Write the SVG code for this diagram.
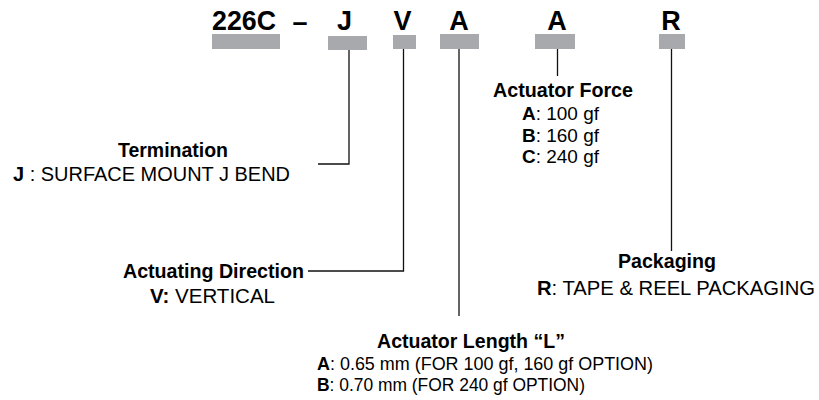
<svg xmlns="http://www.w3.org/2000/svg" width="819" height="400" viewBox="0 0 819 400">
<style>
text{font-family:"Liberation Sans",Arial,sans-serif;fill:#000;}
.code{font-size:27px;font-weight:bold;}
.t{font-size:19.5px;}
.r{font-size:20px;}
.f{font-size:19px;}
.s{font-size:18px;}
.b{font-weight:bold;}
.bar{fill:#A7A9AC;}
.ln{stroke:#111;stroke-width:1.3;fill:none;}
</style>
<rect width="819" height="400" fill="#fff"/>
<g id="code">
<text class="code" x="212" y="30" textLength="64" lengthAdjust="spacingAndGlyphs">226C</text>
<text class="code" x="300" y="31" text-anchor="middle">–</text>
<rect class="bar" x="212" y="34" width="68" height="15"/>
</g>
<g id="seg-J">
<text class="code" x="344.5" y="30" text-anchor="middle">J</text>
<rect class="bar" x="328" y="36" width="39" height="14"/>
</g>
<g id="seg-V">
<text class="code" x="402.5" y="30" text-anchor="middle">V</text>
<rect class="bar" x="393" y="35" width="23" height="14"/>
</g>
<g id="seg-A1">
<text class="code" x="459" y="30" text-anchor="middle">A</text>
<rect class="bar" x="440" y="34" width="39" height="15"/>
</g>
<g id="seg-A2">
<text class="code" x="557" y="30" text-anchor="middle">A</text>
<rect class="bar" x="535" y="34" width="40" height="15"/>
</g>
<g id="seg-R">
<text class="code" x="671" y="30" text-anchor="middle">R</text>
<rect class="bar" x="659" y="34" width="26" height="15"/>
</g>
<g id="connectors">
<polyline class="ln" points="349,50 349,164 318,164"/>
<polyline class="ln" points="403.5,49 403.5,271 308,271"/>
<line class="ln" x1="459" y1="49" x2="459" y2="316"/>
<line class="ln" x1="557.5" y1="49" x2="557.5" y2="76"/>
<line class="ln" x1="671.5" y1="49" x2="671.5" y2="251"/>
</g>
<g id="termination">
<text class="t b" x="118" y="157" textLength="110" lengthAdjust="spacingAndGlyphs">Termination</text>
<text class="r" x="13" y="181" textLength="277" lengthAdjust="spacingAndGlyphs"><tspan class="b">J</tspan> : SURFACE MOUNT J BEND</text>
</g>
<g id="direction">
<text class="t b" x="123" y="277.5" textLength="181" lengthAdjust="spacingAndGlyphs">Actuating Direction</text>
<text class="r" x="150" y="303" textLength="125" lengthAdjust="spacingAndGlyphs"><tspan class="b">V:</tspan> VERTICAL</text>
</g>
<g id="force">
<text class="t b" x="493" y="96.5" textLength="140" lengthAdjust="spacingAndGlyphs">Actuator Force</text>
<text class="f" x="522" y="120" textLength="77" lengthAdjust="spacingAndGlyphs"><tspan class="b">A</tspan>: 100 gf</text>
<text class="f" x="522" y="141.5" textLength="77" lengthAdjust="spacingAndGlyphs"><tspan class="b">B</tspan>: 160 gf</text>
<text class="f" x="522" y="163" textLength="77" lengthAdjust="spacingAndGlyphs"><tspan class="b">C</tspan>: 240 gf</text>
</g>
<g id="packaging">
<text class="t b" x="618" y="268" textLength="98" lengthAdjust="spacingAndGlyphs">Packaging</text>
<text class="r" x="537" y="295" textLength="278" lengthAdjust="spacingAndGlyphs"><tspan class="b">R</tspan>: TAPE &amp; REEL PACKAGING</text>
</g>
<g id="length">
<text class="t b" x="377" y="348" textLength="188" lengthAdjust="spacingAndGlyphs">Actuator Length “L”</text>
<text class="s" x="317" y="370" textLength="336" lengthAdjust="spacingAndGlyphs"><tspan class="b">A</tspan>: 0.65 mm (FOR 100 gf, 160 gf OPTION)</text>
<text class="s" x="317" y="390.5" textLength="268" lengthAdjust="spacingAndGlyphs"><tspan class="b">B</tspan>: 0.70 mm (FOR 240 gf OPTION)</text>
</g>
</svg>
